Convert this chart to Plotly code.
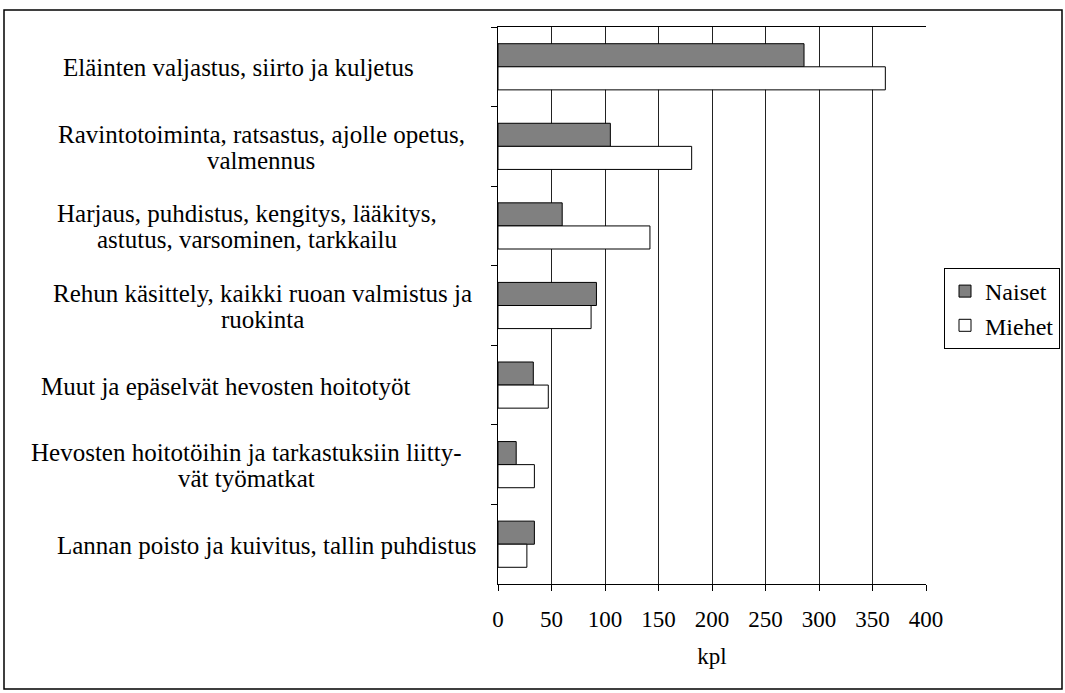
import plotly.graph_objects as go

categories = [
    "Eläinten valjastus, siirto ja kuljetus",
    "Ravintotoiminta, ratsastus, ajolle opetus,<br>valmennus",
    "Harjaus, puhdistus, kengitys, lääkitys,<br>astutus, varsominen, tarkkailu",
    "Rehun käsittely, kaikki ruoan valmistus ja<br>ruokinta",
    "Muut ja epäselvät hevosten hoitotyöt",
    "Hevosten hoitotöihin ja tarkastuksiin liitty-<br>vät työmatkat",
    "Lannan poisto ja kuivitus, tallin puhdistus",
]
naiset = [286, 105, 60, 92, 33, 17, 34]
miehet = [362, 181, 142, 87, 47, 34, 27]
x_ticks = [0, 50, 100, 150, 200, 250, 300, 350, 400]

# layout: horizontal centre (pixels) of each category label block
label_centres_px = [238, 261, 247, 262, 225, 246, 266]

W, H = 1065, 693
L, R, T, B = 498, 926, 27, 584
pw, ph = R - L, B - T

def px(x):
    return (x - L) / pw

def py(y):
    return (B - y) / ph

FAM = "Liberation Serif"
label_font = dict(family=FAM, size=25, color="black")
tick_font = dict(family=FAM, size=23, color="black")
legend_font = dict(family=FAM, size=24, color="black")

fig = go.Figure()
fig.add_trace(go.Bar(y=categories, x=naiset, name="Naiset", orientation="h",
                     marker=dict(color="#808080", line=dict(color="black", width=1))))
fig.add_trace(go.Bar(y=categories, x=miehet, name="Miehet", orientation="h",
                     marker=dict(color="white", line=dict(color="black", width=1))))

LINE_GAP = 26
for c, cx in zip(categories, label_centres_px):
    lines = c.split("<br>")
    n = len(lines)
    for i, line in enumerate(lines):
        offset = (i - (n - 1) / 2) * LINE_GAP
        fig.add_annotation(x=px(cx), xref="paper", y=c, yref="y", text=line,
                           showarrow=False, xanchor="center", yanchor="middle",
                           align="center", font=label_font, yshift=-1 - offset)

fig.add_shape(type="rect", xref="paper", yref="paper",
              x0=px(4), x1=px(1062), y0=py(689), y1=py(10),
              line=dict(color="black", width=1.5), layer="below")

fig.update_layout(
    width=W, height=H,
    margin=dict(l=L, r=W - R, t=T, b=H - B, autoexpand=False),
    paper_bgcolor="white", plot_bgcolor="white",
    barmode="group", bargap=0.42, bargroupgap=0,
    font=label_font,
    showlegend=True,
    legend=dict(x=px(944), y=py(268), xanchor="left", yanchor="top",
                bordercolor="black", borderwidth=1, bgcolor="white",
                traceorder="normal", font=legend_font, itemwidth=30,
                tracegroupgap=0),
    xaxis=dict(range=[0, 400], tickvals=x_ticks, ticktext=[str(v) for v in x_ticks],
               tickfont=tick_font, ticklabelstandoff=8,
               showgrid=True, gridcolor="#222222", gridwidth=1,
               showline=True, linecolor="black", linewidth=1, mirror=True,
               ticks="outside", ticklen=6, tickcolor="black",
               zeroline=False, fixedrange=True,
               title=dict(text="kpl", font=tick_font, standoff=17)),
    yaxis=dict(autorange="reversed", showticklabels=False, showgrid=False,
               showline=True, linecolor="black", linewidth=1,
               ticks="outside", ticklen=6, tickcolor="black",
               tickson="boundaries", fixedrange=True),
)

fig.write_html("out.html", config={"displayModeBar": False},
               post_script="document.body.style.margin='0';document.body.style.padding='0';")
